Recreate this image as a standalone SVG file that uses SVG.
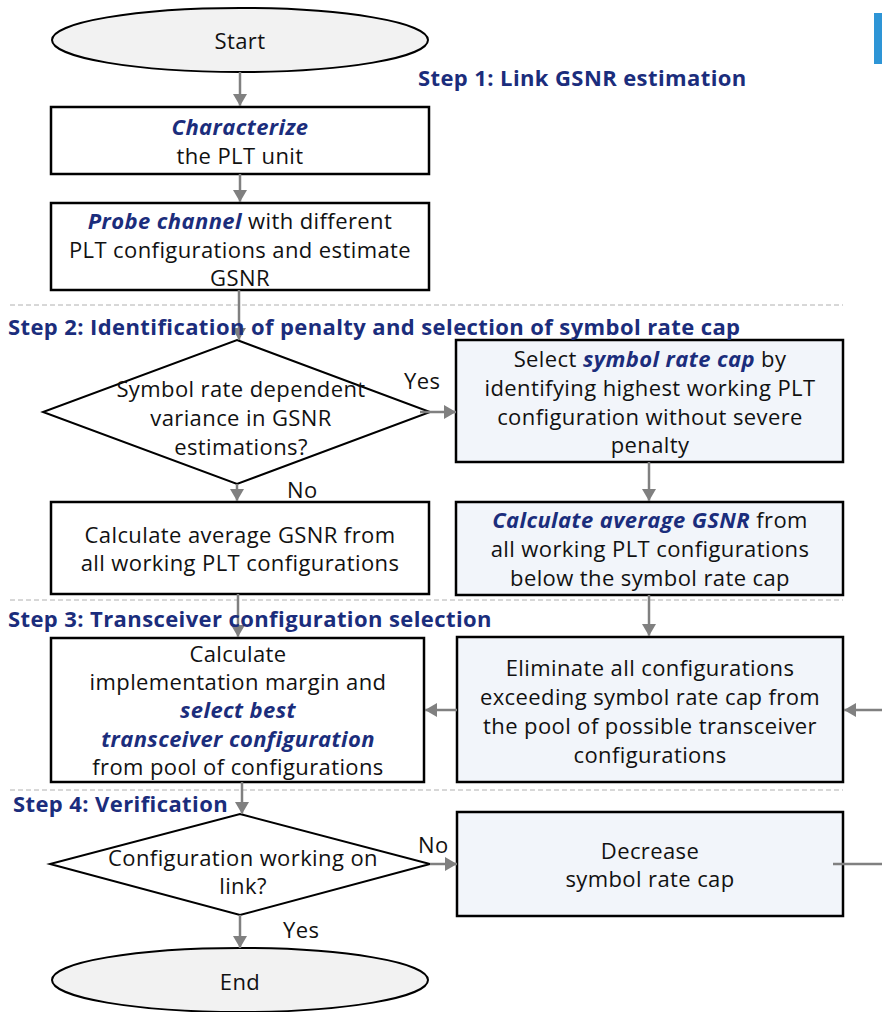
<svg xmlns="http://www.w3.org/2000/svg" width="882" height="1012" viewBox="0 0 882 1012">
<style>
.t{font-family:"Open Sans","Noto Sans",sans-serif;font-size:22px;letter-spacing:0.4px;fill:#111;text-anchor:middle}
.l{font-family:"Open Sans","Noto Sans",sans-serif;font-size:22px;letter-spacing:0.4px;fill:#111}
.b{font-weight:bold;font-style:italic;fill:#1b2d7c}
.h{font-family:"Open Sans","Noto Sans",sans-serif;font-size:22px;letter-spacing:0.4px;font-weight:bold;fill:#1b2d7c}
.box{fill:#fff;stroke:#000;stroke-width:2.5}
.bb{fill:#f2f5fa;stroke:#000;stroke-width:2.5}
.term{fill:#f2f2f2;stroke:#000;stroke-width:2}
.dia{fill:#fff;stroke:#000;stroke-width:2}
.c{stroke:#808080;stroke-width:2.5;fill:none}
.sep{stroke:#b0b0b0;stroke-width:1;stroke-dasharray:5 3}
</style>
<defs>
<marker id="ah" viewBox="0 0 12 14" refX="12" refY="7" markerWidth="12" markerHeight="14" markerUnits="userSpaceOnUse" orient="auto">
<path d="M0,0 L12,7 L0,14 z" fill="#808080"/>
</marker>
</defs>
<rect x="874" y="13" width="8" height="51" fill="#2e95d6"/>
<g id="separators">
<line class="sep" x1="10" y1="305" x2="843" y2="305"/>
<line class="sep" x1="10" y1="600" x2="843" y2="600"/>
<line class="sep" x1="10" y1="790" x2="843" y2="790"/>
</g>
<g id="start"><ellipse class="term" cx="240" cy="40" rx="188" ry="32"/><text class="t" x="240" y="49">Start</text></g>
<g id="char"><rect class="box" x="51" y="107" width="378" height="67"/>
<text class="t" x="240" y="135"><tspan class="b">Characterize</tspan></text>
<text class="t" x="240" y="164">the PLT unit</text></g>
<g id="probe"><rect class="box" x="51" y="203" width="378" height="87"/>
<text class="t" x="240" y="229"><tspan class="b">Probe channel</tspan> with different</text>
<text class="t" x="240" y="258">PLT configurations and estimate</text>
<text class="t" x="240" y="286">GSNR</text></g>
<g id="dec1"><polygon class="dia" points="237,340 430,412 237,484 43,412"/>
<text class="t" x="241" y="397">Symbol rate dependent</text>
<text class="t" x="241" y="426">variance in GSNR</text>
<text class="t" x="241" y="455">estimations?</text></g>
<g id="selcap"><rect class="bb" x="456" y="340" width="387" height="122"/>
<text class="t" x="650" y="367">Select <tspan class="b">symbol rate cap</tspan> by</text>
<text class="t" x="650" y="396">identifying highest working PLT</text>
<text class="t" x="650" y="425">configuration without severe</text>
<text class="t" x="650" y="453">penalty</text></g>
<g id="avg1"><rect class="box" x="51" y="502" width="378" height="92"/>
<text class="t" x="240" y="543">Calculate average GSNR from</text>
<text class="t" x="240" y="571">all working PLT configurations</text></g>
<g id="avg2"><rect class="bb" x="456" y="502" width="387" height="93"/>
<text class="t" x="650" y="528"><tspan class="b">Calculate average GSNR</tspan> from</text>
<text class="t" x="650" y="557">all working PLT configurations</text>
<text class="t" x="650" y="586">below the symbol rate cap</text></g>
<g id="impl"><rect class="box" x="51" y="638" width="373" height="144"/>
<text class="t" x="238" y="662">Calculate</text>
<text class="t" x="238" y="690">implementation margin and</text>
<text class="t" x="238" y="718"><tspan class="b">select best</tspan></text>
<text class="t" x="238" y="747"><tspan class="b">transceiver configuration</tspan></text>
<text class="t" x="238" y="775">from pool of configurations</text></g>
<g id="elim"><rect class="bb" x="457" y="637" width="386" height="145"/>
<text class="t" x="650" y="676">Eliminate all configurations</text>
<text class="t" x="650" y="705">exceeding symbol rate cap from</text>
<text class="t" x="650" y="734">the pool of possible transceiver</text>
<text class="t" x="650" y="763">configurations</text></g>
<g id="dec2"><polygon class="dia" points="240,814 430,864 240,915 50,864"/>
<text class="t" x="243" y="866">Configuration working on</text>
<text class="t" x="243" y="894">link?</text></g>
<g id="decrease"><rect class="bb" x="457" y="812" width="386" height="104"/>
<text class="t" x="650" y="859">Decrease</text>
<text class="t" x="650" y="887">symbol rate cap</text></g>
<g id="end"><ellipse class="term" cx="240" cy="980" rx="188" ry="32"/><text class="t" x="240" y="990">End</text></g>
<g id="connectors">
<line class="c" x1="240" y1="72" x2="240" y2="106" marker-end="url(#ah)"/>
<line class="c" x1="240" y1="174" x2="240" y2="202" marker-end="url(#ah)"/>
<line class="c" x1="239" y1="290" x2="239" y2="340" marker-end="url(#ah)"/>
<line class="c" x1="420" y1="412" x2="456" y2="412" marker-end="url(#ah)"/>
<line class="c" x1="649" y1="462" x2="649" y2="501" marker-end="url(#ah)"/>
<line class="c" x1="237" y1="484" x2="237" y2="501" marker-end="url(#ah)"/>
<line class="c" x1="238" y1="594" x2="238" y2="637" marker-end="url(#ah)"/>
<line class="c" x1="649" y1="595" x2="649" y2="636" marker-end="url(#ah)"/>
<line class="c" x1="457" y1="710" x2="425" y2="710" marker-end="url(#ah)"/>
<line class="c" x1="882" y1="710" x2="844" y2="710" marker-end="url(#ah)"/>
<line class="c" x1="242" y1="782" x2="242" y2="814" marker-end="url(#ah)"/>
<line class="c" x1="430" y1="864" x2="457" y2="864" marker-end="url(#ah)"/>
<line class="c" x1="833" y1="864" x2="882" y2="864"/>
<line class="c" x1="240" y1="915" x2="240" y2="948" marker-end="url(#ah)"/>
</g>
<g id="labels">
<text class="h" x="418" y="86">Step 1: Link GSNR estimation</text>
<text class="h" x="8" y="335">Step 2: Identification of penalty and selection of symbol rate cap</text>
<text class="h" x="8" y="627">Step 3: Transceiver configuration selection</text>
<text class="h" x="13" y="812">Step 4: Verification</text>
<text class="l" x="404" y="389">Yes</text>
<text class="l" x="287" y="498">No</text>
<text class="l" x="418" y="853">No</text>
<text class="l" x="283" y="938">Yes</text>
</g>
</svg>
